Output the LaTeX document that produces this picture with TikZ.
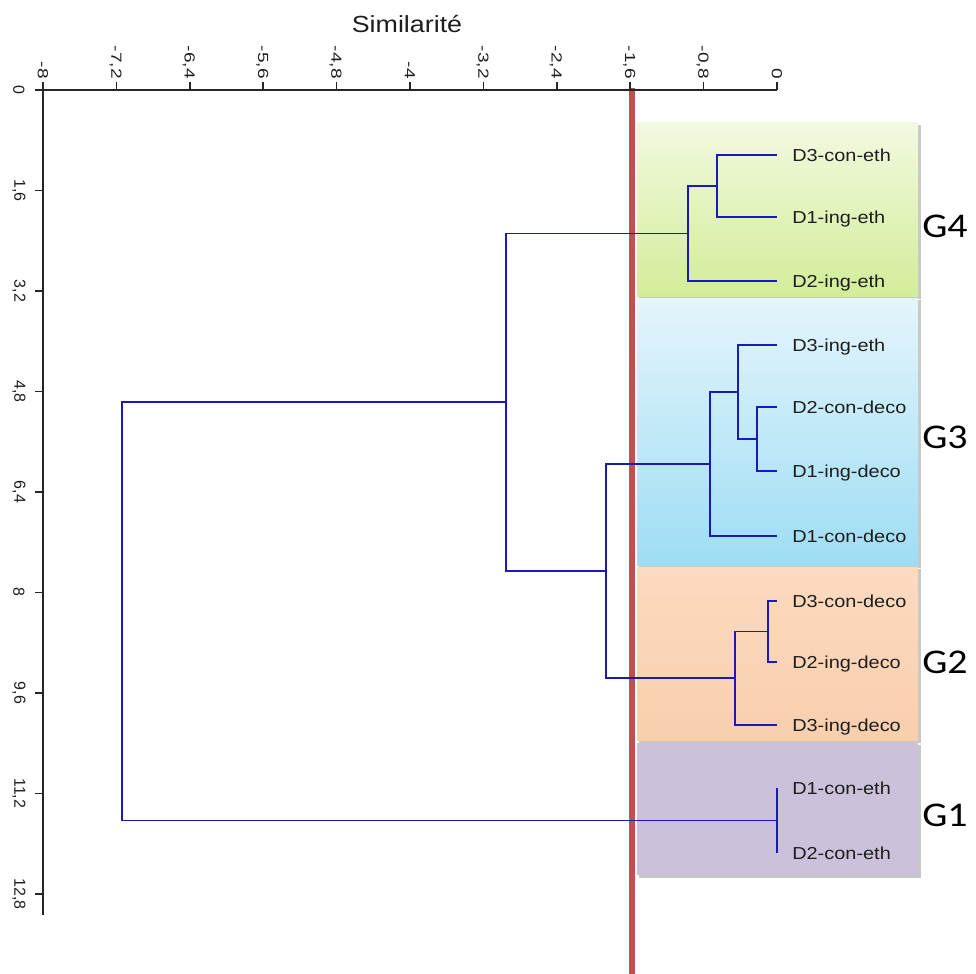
\documentclass[tikz,border=0pt]{standalone}
\usepackage{fontspec}
\setmainfont{Liberation Sans}
\newfontfamily\leaffont[FakeStretch=1.15]{Liberation Sans}
\newfontfamily\topfont[FakeStretch=1.3]{Liberation Sans}
\newfontfamily\gfont[FakeStretch=1.15]{Carlito}
\usetikzlibrary{calc}
\definecolor{dendro}{HTML}{1A1AB8}
\definecolor{cutred}{HTML}{C0504D}
\definecolor{axisgray}{HTML}{262626}
\definecolor{txtgray}{HTML}{1E1E1E}
\definecolor{gfourtop}{HTML}{F2F9E0}
\definecolor{gfourbot}{HTML}{D2ED99}
\definecolor{gthreetop}{HTML}{E4F5FC}
\definecolor{gthreebot}{HTML}{9EDDF4}
\definecolor{gtwotop}{HTML}{FCDAC0}
\definecolor{gtwobot}{HTML}{F9CFAD}
\definecolor{gone}{HTML}{CCC1DA}
\begin{document}
\begin{tikzpicture}[x=0.75pt,y=-0.75pt,
  axisline/.style={draw=axisgray, line width=1.1pt},
  tickmark/.style={draw=axisgray, line width=1.1pt},
  dend/.style={draw=dendro, line width=1pt},
  cutline/.style={draw=cutred, line width=4.9pt},
  leaflab/.style={anchor=base west, inner sep=0pt, text=txtgray, font=\leaffont\fontsize{13}{13}\selectfont},
  glab/.style={anchor=base west, inner sep=0pt, text=black, font=\gfont\fontsize{26}{26}\selectfont},
  toplab/.style={rotate=-90, anchor=east, inner sep=0pt, text depth=0pt, text=txtgray, font=\topfont\fontsize{11}{11}\selectfont},
  leftlab/.style={rotate=-90, anchor=center, inner sep=0pt, text=txtgray, font=\fontsize{12}{12}\selectfont},
  titlelab/.style={inner sep=0pt, text=txtgray, font=\leaffont\fontsize{17.5}{17.5}\selectfont},
  shadowbox/.style={fill=black, opacity=0.22}
]
\useasboundingbox (0,0) rectangle (976,974);

% ---------- group boxes ----------
\foreach \ya/\yb in {123/296, 298/565, 567/740, 743/875}
  \fill[shadowbox] (639,{\ya+2}) rectangle (921,{\yb+2.5});
\shade[top color=gfourtop, bottom color=gfourbot] (637,123) rectangle (918,296);
\shade[top color=gthreetop, bottom color=gthreebot] (637,298) rectangle (918,565);
\shade[top color=gtwotop, bottom color=gtwobot] (637,567) rectangle (918,740);
\fill[gone] (637,743) rectangle (918,875);

% ---------- cut line ----------
\coordinate (cuttop) at (632,88);
\coordinate (cutbot) at (632,974);
\draw[cutline] (cuttop) -- (cutbot);

% ---------- axes ----------
\coordinate (origin) at (43,90);
\coordinate (xstart) at (38,90);
\coordinate (xend) at (777,90);
\coordinate (yend) at (43,915);
\draw[axisline] (xstart) -- (xend);
\draw[axisline] (origin) -- (yend);
\foreach \v/\lab in {-8/{-8},-7.2/{-7,2},-6.4/{-6,4},-5.6/{-5,6},-4.8/{-4,8},-4/{-4},-3.2/{-3,2},-2.4/{-2,4},-1.6/{-1,6},-0.8/{-0,8},0/{0}}{
  \pgfmathsetmacro\px{777+91.75*\v}
  \draw[tickmark] (\px,90) -- (\px,82);
  \node[toplab] at (\px,79) {\lab};
}
\foreach \v/\lab in {0/{0},1.6/{1,6},3.2/{3,2},4.8/{4,8},6.4/{6,4},8/{8},9.6/{9,6},11.2/{11,2},12.8/{12,8}}{
  \pgfmathsetmacro\py{90+62.8*\v}
  \draw[tickmark] (43,\py) -- (35,\py);
  \node[leftlab] at (19,\py) {\lab};
}
\node[titlelab] (title) at (407,24) {Similarité};

% ---------- leaves ----------
\foreach \n/\yy/\txt in {
  l1/155/{D3-con-eth}, l2/217/{D1-ing-eth}, l3/281/{D2-ing-eth},
  l4/345/{D3-ing-eth}, l5/407/{D2-con-deco}, l6/471/{D1-ing-deco}, l7/536/{D1-con-deco},
  l8/601/{D3-con-deco}, l9/662/{D2-ing-deco}, l10/725/{D3-ing-deco},
  l11/788/{D1-con-eth}, l12/853/{D2-con-eth}}{
  \coordinate (\n) at (777,\yy);
  \node[leaflab] (t\n) at (792,\yy+6.3) {\txt};
}

% ---------- merge points ----------
\coordinate (m4a) at (717,186);
\coordinate (m4b) at (688,233.5);
\coordinate (m3a) at (757,439);
\coordinate (m3b) at (738,392);
\coordinate (m3c) at (710,464);
\coordinate (m2a) at (768,631.5);
\coordinate (m2b) at (735,678);
\coordinate (m1) at (777,820.5);
\coordinate (m23) at (606,571);
\coordinate (r2) at (506,402);
\coordinate (root) at (122,611);

% ---------- dendrogram ----------
\draw[dend] (l1) -| (m4a);
\draw[dend] (l2) -| (m4a);
\draw[dend] (m4a) -| (m4b);
\draw[dend] (l3) -| (m4b);
\draw[dend] (l5) -| (m3a);
\draw[dend] (l6) -| (m3a);
\draw[dend] (l4) -| (m3b);
\draw[dend] (m3a) -| (m3b);
\draw[dend] (m3b) -| (m3c);
\draw[dend] (l7) -| (m3c);
\draw[dend] (l8) -| (m2a);
\draw[dend] (l9) -| (m2a);
\draw[dend] (m2a) -| (m2b);
\draw[dend] (l10) -| (m2b);
\draw[dend] (l11) -- (l12);
\draw[dend] (m3c) -| (m23);
\draw[dend] (m2b) -| (m23);
\draw[dend] (m4b) -| (r2);
\draw[dend] (m23) -| (r2);
\draw[dend] (r2) -| (root);
\draw[dend] (m1) -| (root);

% ---------- group labels ----------
\node[glab] (g4) at (922,238) {G4};
\node[glab] (g3) at (922,448) {G3};
\node[glab] (g2) at (922,673) {G2};
\node[glab] (g1) at (922,826) {G1};
\end{tikzpicture}
\end{document}
